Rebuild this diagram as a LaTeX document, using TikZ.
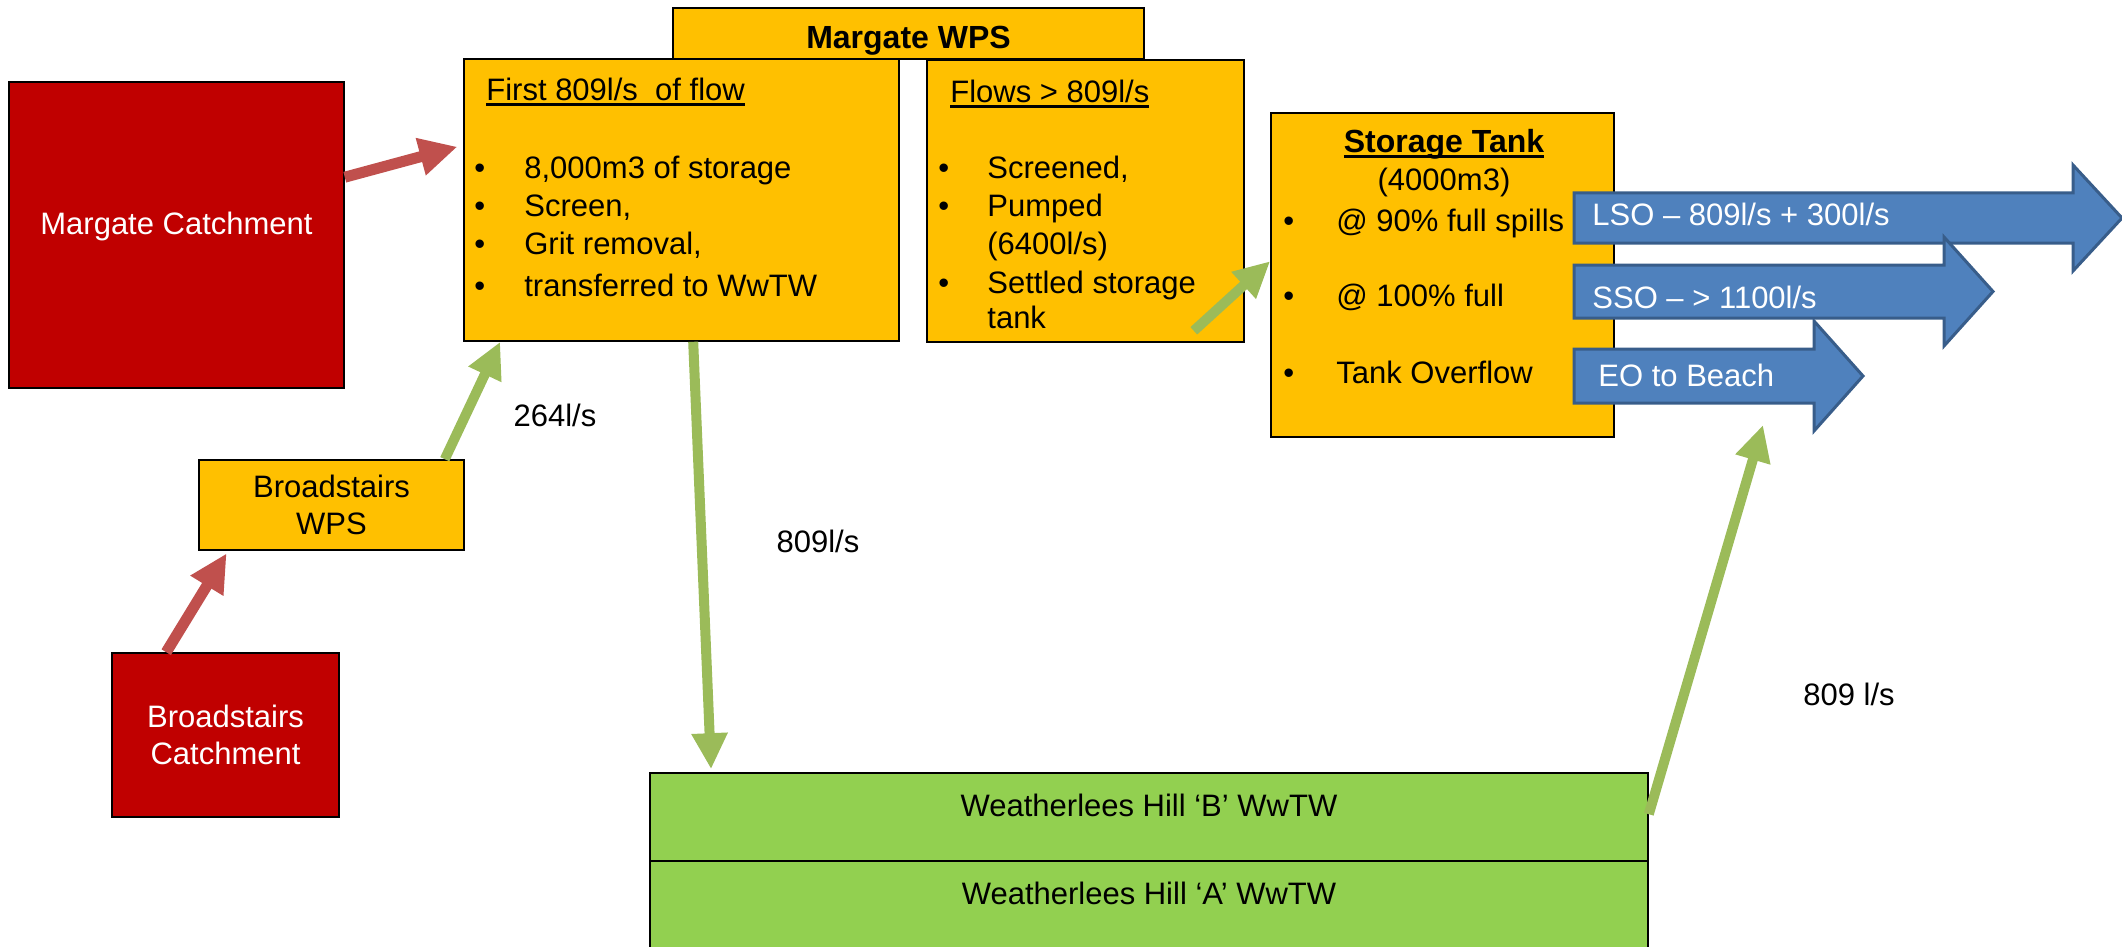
\documentclass[tikz,border=0pt]{standalone}
\usepackage{fontspec}
\setmainfont{Liberation Sans}
\usetikzlibrary{positioning, arrows.meta}

\definecolor{catchred}{HTML}{C00000}
\definecolor{wpsyellow}{HTML}{FFC000}
\definecolor{worksgreen}{HTML}{92D050}
\definecolor{pipegreen}{HTML}{9BBB59}
\definecolor{pipered}{HTML}{C0504D}
\definecolor{spillblue}{HTML}{4F81BD}
\definecolor{spilledge}{HTML}{385D8A}

\newcommand\undl[1]{\setbox0\hbox{#1}\rlap{\rule[-2.75pt]{\wd0}{1.5pt}}\box0}
\newcommand\bul[1]{\makebox[#1][l]{•}}

\begin{document}
\begin{tikzpicture}[x=0.5pt,y=-0.5pt,
    every node/.style={font=\fontsize{15.5}{18.5}\selectfont},
    blk/.style={draw=black,line width=0.8pt,inner sep=0pt,align=center},
    catch/.style={blk,fill=catchred,text=white},
    wps/.style={blk,fill=wpsyellow},
    works/.style={blk,fill=worksgreen,minimum width=499pt,minimum height=44pt,text depth=12pt},
    txt/.style={inner sep=0pt,anchor=base west},
    redpipe/.style={draw=pipered,line width=5.5pt,-{Triangle[length=19pt,width=18pt]}},
    greenpipe/.style={draw=pipegreen,line width=5pt,-{Triangle[length=18pt,width=17pt]}},
    spill/.style={fill=spillblue,draw=spilledge,line width=1.5pt}
  ]
  \useasboundingbox (0,0) rectangle (2122,947);

  % catchments and Broadstairs
  \node[catch,minimum width=167.5pt,minimum height=153pt,text depth=12pt] (margcatch) at (176.5,235) {Margate Catchment};
  \node[wps,minimum width=132.5pt,minimum height=45pt] (bwps) at (331.5,505) {Broadstairs\\WPS};
  \node[catch,minimum width=113.5pt,minimum height=82pt] (bcatch) at (225.5,735) {Broadstairs\\Catchment};

  % Margate WPS
  \node[wps,minimum width=235.5pt,minimum height=25.5pt,text height=15pt,text depth=0pt,
        font=\fontsize{16}{19}\selectfont\bfseries] (mwps) at (908.5,33.5) {Margate WPS};
  \node[wps,minimum width=217.5pt,minimum height=141pt] (first) at (681.5,200) {};
  \node[wps,minimum width=158.5pt,minimum height=141pt] (flows) at (1085.5,201) {};
  \node[wps,minimum width=171.5pt,minimum height=162pt] (tank) at (1442.5,275) {};

  \node[txt] (firsthd) at (486,101) {\undl{First 809l/s\ \ of flow}};
  \foreach \i/\y/\lbl in {1/178/{8,000m3 of storage},2/216/{Screen,},3/254/{Grit removal,},4/296/{transferred to WwTW}}
    \node[txt] (first\i) at (474,\y) {\bul{25pt}\lbl};

  \node[txt] (flowshd) at (950,103) {\undl{Flows > 809l/s}};
  \foreach \i/\y/\lbl in {1/178/{\bul{24.5pt}Screened,},2/216/{\bul{24.5pt}Pumped},3/254/{\hspace*{24.5pt}(6400l/s)},
                          4/293/{\bul{24.5pt}Settled storage},5/328/{\hspace*{24.5pt}tank}}
    \node[txt] (flows\i) at (938,\y) {\lbl};

  \node[inner sep=0pt,anchor=base,font=\fontsize{16}{19}\selectfont\bfseries] (tankhd) at (1444,153) {\undl{Storage Tank}};
  \node[inner sep=0pt,anchor=base] (tankvol) at (1444,191) {(4000m3)};
  \foreach \i/\y/\lbl in {1/231/{@ 90\% full spills},2/306/{@ 100\% full},3/383/{Tank Overflow}}
    \node[txt] (tank\i) at (1283,\y) {\bul{26.5pt}\lbl};

  % treatment works
  \node[works] (wwtwb) at (1149,817) {Weatherlees Hill ‘B’ WwTW};
  \node[works] (wwtwa) at (1149,905) {Weatherlees Hill ‘A’ WwTW};

  % overflows
  \foreach \n/\t/\b/\e/\xb/\yb/\lbl in {lso/193/243/2073/1592/226/{LSO – 809l/s + 300l/s},
                                        sso/265/318/1944/1592/308/{SSO – > 1100l/s},
                                        eo/349/403/1814/1598/386/{EO to Beach}}{
    \draw[spill] (1574,\t) -- (\e,\t) -- (\e,\t-28) -- ({\e+49},{(\t+\b)/2}) -- (\e,\b+28) -- (\e,\b) -- (1574,\b) -- cycle;
    \node[txt,text=white] (\n) at (\xb,\yb) {\lbl};
  }
  \coordinate (eodrop) at (1763,425);

  % flows between them
  \draw[redpipe,shorten >=3pt] ([yshift=-48pt]margcatch.north east) -- ([yshift=-43.5pt]first.north west);
  \draw[redpipe,shorten >=1.5pt] ([xshift=27.5pt]bcatch.north west) -- ([xshift=15pt]bwps.south west);
  \draw[greenpipe] ([xshift=-10pt]bwps.north east) -- ([xshift=18.5pt]first.south west);
  \draw[greenpipe,shorten >=1.5pt] ([xshift=115pt]first.south west) -- ([xshift=31pt]wwtwb.north west);
  \draw[greenpipe] ([shift={(-25.5pt,6pt)}]flows.south east) -- ([yshift=-74.5pt]tank.north west);
  \draw[greenpipe] ([yshift=-21pt]wwtwb.north east) -- (eodrop);

  \node (q264) at (555,415) {264l/s};
  \node (q809) at (818,541) {809l/s};
  \node (q809b) at (1849,694) {809 l/s};
\end{tikzpicture}
\end{document}
